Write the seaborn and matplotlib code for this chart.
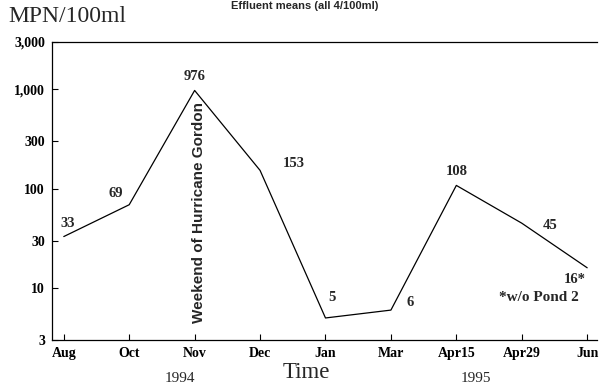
import pandas as pd
import matplotlib
matplotlib.use('Agg')
import matplotlib.pyplot as plt
import seaborn as sns

# data
months = ['Aug', 'Oct', 'Nov', 'Dec', 'Jan', 'Mar', 'Apr15', 'Apr29', 'Jun']
mpn = [33, 69, 976, 153, 5, 6, 108, 45, 16]
point_labels = ['33', '69', '976', '153', '5', '6', '108', '45', '16*']
y_ticks = [3, 10, 30, 100, 300, 1000, 3000]
y_tick_labels = ['3', '10', '30', '100', '300', '1,000', '3,000']

# label offsets in pixels
offsets = [(4, 13), (-13, 11), (0, 14), (34, 7), (7, 20), (19, 8), (0, 14), (28, -2), (-12, -12)]

df = pd.DataFrame({'pos': range(len(months)), 'month': months, 'mpn': mpn})

sns.set_style('ticks')
plt.rcParams['font.family'] = ['Liberation Serif', 'DejaVu Serif']

fig = plt.figure(figsize=(5.99, 3.84), dpi=100)
ax = fig.add_axes([52 / 599, 44 / 384, 545 / 599, 298 / 384])

sns.lineplot(data=df, x='pos', y='mpn', ax=ax, color='black', linewidth=0.9, sort=False)
ax.set_yscale('log')
ax.set_ylim(3, 3000)
ax.set_xlim(-0.18, 8.15)

ax.set_yticks(y_ticks)
ax.set_yticklabels(y_tick_labels, fontsize=10, fontweight='bold')
ax.yaxis.set_minor_locator(matplotlib.ticker.NullLocator())
ax.set_xticks(df['pos'])
ax.set_xticklabels(months, fontsize=10, fontweight='bold')
ax.tick_params(direction='in', length=4, width=0.8, pad=5, colors='black')
ax.set_xlabel('')
ax.set_ylabel('')

for s in ['left', 'bottom', 'top']:
    ax.spines[s].set_visible(True)
    ax.spines[s].set_linewidth(0.9)
    ax.spines[s].set_color('black')
ax.spines['right'].set_visible(False)

for x, v, lab, off in zip(df['pos'], mpn, point_labels, offsets):
    ax.annotate(lab, (x, v), xytext=off, textcoords='offset pixels',
                ha='center', va='center', fontsize=10.5, fontweight='bold')

ax.text(2.06, 4.5, 'Weekend of Hurricane Gordon', rotation=90, ha='center', va='bottom',
        fontsize=11, fontweight='bold', family=['Liberation Sans', 'DejaVu Sans'])
ax.text(0.893, 0.141, '*w/o Pond 2', transform=ax.transAxes, ha='center', va='center',
        fontsize=11, fontweight='bold')

fig.text(8 / 599, 1 - 16 / 384, 'MPN/100ml', ha='left', va='center', fontsize=17)
fig.text(306 / 599, 1 - 373 / 384, 'Time', ha='center', va='center', fontsize=16.5)
fig.text(180 / 599, 1 - 378 / 384, '1994', ha='center', va='center', fontsize=11)
fig.text(476 / 599, 1 - 378 / 384, '1995', ha='center', va='center', fontsize=11)
fig.text(305 / 599, 1 - 1 / 384, 'Effluent means (all 4/100ml)', ha='center', va='top',
         fontsize=8, fontweight='bold', family=['Liberation Sans', 'DejaVu Sans'])

fig.savefig('out.png', dpi=100)
